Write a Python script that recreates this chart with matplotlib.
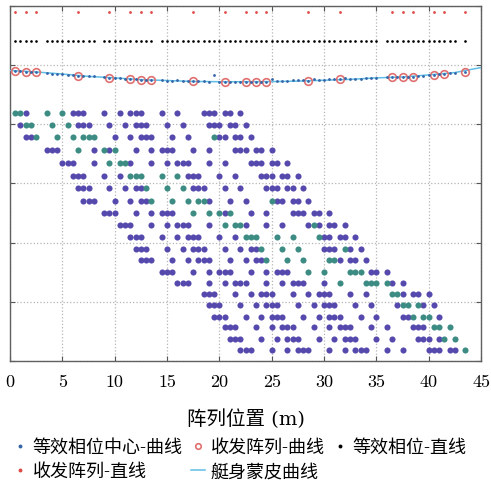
import numpy as np
import matplotlib.pyplot as plt

# transceiver element positions along the array (m)
elem_x = [0.5, 1.5, 2.5, 6.5, 9.5, 11.5, 12.5, 13.5, 17.5, 20.5, 22.5,
          23.5, 24.5, 28.5, 31.5, 36.5, 37.5, 38.5, 40.5, 41.5, 43.5]
# height of each element once it sits on the hull skin
elem_curve_y = [4.905, 4.89, 4.885, 4.825, 4.79, 4.765, 4.755, 4.75, 4.725, 4.72, 4.72,
                4.72, 4.722, 4.735, 4.765, 4.795, 4.80, 4.805, 4.84, 4.855, 4.89]
# hull skin profile
hull_x = [0, 2.5, 5, 7.5, 10, 12.5, 15, 17.5, 20, 22.5, 25, 27.5, 30, 32.5, 35, 37.5, 40, 42.5, 45]
hull_y = [4.91, 4.885, 4.85, 4.81, 4.785, 4.755, 4.74, 4.725, 4.72, 4.72, 4.722, 4.73,
          4.745, 4.76, 4.785, 4.80, 4.835, 4.875, 4.96]
# levels of the straight-line rows
line_elem_y = 5.9
line_phase_y = 5.4
# one row per transmit element
row_y = [4.19, 3.99, 3.78, 3.56, 3.35, 3.13, 2.93, 2.71, 2.50, 2.30, 2.10,
         1.90, 1.70, 1.50, 1.32, 1.14, 0.94, 0.75, 0.57, 0.38, 0.19]
# receive element picked for each phase centre (teal), per transmit row
teal_idx = [
    [0, 1, 3, 4],
    [1, 2, 3, 4],
    [2, 3, 4, 5, 6, 7, 15],
    [3, 5, 7],
    [4, 5, 6],
    [5, 6, 7, 8, 9],
    [7, 8, 9],
    [7, 8, 9, 10, 11, 15],
    [8, 9, 10, 12],
    [9, 10, 11, 16],
    [10, 11, 12, 13, 14, 15],
    [12, 13, 14, 18],
    [12, 13, 14, 15, 16],
    [13, 14, 15, 16, 17],
    [14, 15, 16, 17, 18],
    [15, 16],
    [16, 17, 18],
    [17, 18, 19],
    [18, 19, 20],
    [19, 20],
    [20],
]
x_ticks = [0, 5, 10, 15, 20, 25, 30, 35, 40, 45]
labels = ['等效相位中心-曲线', '收发阵列-曲线', '等效相位-直线', '收发阵列-直线', '艇身蒙皮曲线']

purple = '#5549ad'
teal = '#3c8c84'
cjk = ['DejaVu Serif', 'Noto Sans CJK SC']

fig = plt.figure(figsize=(4.91, 4.85), dpi=100)
ax = fig.add_axes([0.0204, 0.2536, 0.9593, 0.732])

ex = np.array(elem_x)
ey = np.array(elem_curve_y)

# phase centres per transmit element
pick_x, pick_y = [], []
for i, yv in enumerate(row_y):
    mids = (ex[i] + ex) / 2
    mask = np.zeros(len(ex), dtype=bool)
    mask[teal_idx[i]] = True
    ax.plot(mids[~mask], np.full((~mask).sum(), yv), 'o', color=purple, ms=4.4, mec='none')
    ax.plot(mids[mask], np.full(mask.sum(), yv), 'o', color=teal, ms=4.4, mec='none')
    # same picked pairs, but with the elements on the hull
    pick_x += list((ex[i] + ex[mask]) / 2)
    pick_y += list((ey[i] + ey[mask]) / 2)

# straight array and its equivalent phase centres
h_le, = ax.plot(ex, np.full(len(ex), line_elem_y), 'o', color='#e04848', ms=2.0, mec='none')
pc_line = np.unique((ex[:, None] + ex[None, :]) / 2)
h_lp, = ax.plot(pc_line, np.full(len(pc_line), line_phase_y), 'o', color='black', ms=1.9, mec='none')

# curved (conformal) array
h_hull, = ax.plot(hull_x, hull_y, '-', color='#5fbde6', lw=1.1, zorder=3)
h_ec, = ax.plot(ex, ey, 'o', ms=5.5, mfc='none', mec='#e07070', mew=1.2, zorder=4)
h_pc, = ax.plot(pick_x, pick_y, 'o', color='#3464a8', ms=2.0, mec='none', zorder=5)

ax.set_xlim(0, 45)
ax.set_ylim(0, 6)
ax.set_xticks(x_ticks)
ax.set_xticklabels([str(t) for t in x_ticks], fontfamily='cmr10', fontsize=13)
ax.set_yticks(range(7))
ax.tick_params(direction='in', top=True, right=True, length=3.5, width=0.8,
               labelleft=False, pad=9, color='#555555')
ax.grid(True, linestyle=':', color='#b5b5b5', linewidth=0.9)
for sp in ax.spines.values():
    sp.set_color('#606060')
    sp.set_linewidth(1.0)
ax.set_xlabel('阵列位置 (m)', fontfamily=cjk, fontsize=14, labelpad=14)

order = [0, 3, 1, 4, 2]
handles = [h_pc, h_ec, h_lp, h_le, h_hull]
leg = fig.legend([handles[k] for k in order], [labels[k] for k in order],
                 loc='upper left', bbox_to_anchor=(0.026, 0.095), ncol=3, frameon=False,
                 prop={'family': cjk, 'size': 13}, handlelength=0.8, handletextpad=0.3,
                 columnspacing=0.45, borderpad=0, borderaxespad=0, labelspacing=0.35)
for h in leg.legend_handles:
    if h.get_marker() == 'o':
        h.set_markersize(4.0 if h.get_markerfacecolor() == 'none' else 2.8)

fig.savefig('out.png', dpi=100)
